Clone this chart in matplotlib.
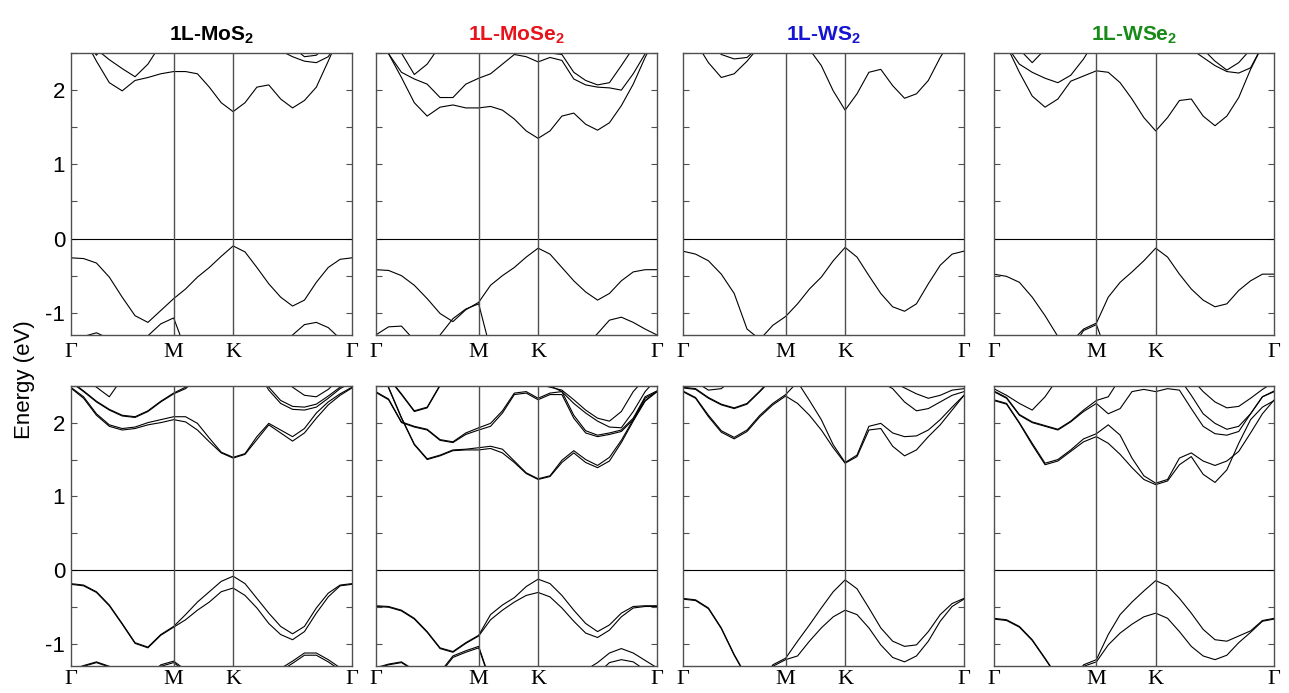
import numpy as np
import matplotlib
matplotlib.use('Agg')
import matplotlib.pyplot as plt
from matplotlib.ticker import MultipleLocator

plt.rcParams['font.family'] = ['Liberation Sans', 'DejaVu Sans']
plt.rcParams['mathtext.fontset'] = 'custom'
plt.rcParams['mathtext.rm'] = 'Liberation Sans:bold'
plt.rcParams['mathtext.default'] = 'rm'
plt.rcParams['axes.unicode_minus'] = False

# k-path G-M-K-G, segment lengths in units of |GK|
seg_gm, seg_mk, seg_kg = 0.866, 0.5, 1.0
k_nodes = [0, seg_gm, seg_gm + seg_mk, seg_gm + seg_mk + seg_kg]
k_labels = ['Γ', 'M', 'K', 'Γ']
k = np.concatenate([np.linspace(k_nodes[0], k_nodes[1], 9),
                    np.linspace(k_nodes[1], k_nodes[2], 6)[1:],
                    np.linspace(k_nodes[2], k_nodes[3], 11)[1:]])

titles = ['1L-MoS$_2$', '1L-MoSe$_2$', '1L-WS$_2$', '1L-WSe$_2$']
title_colors = ['black', '#e8141c', '#1414d2', '#178a17']

# energies (eV) read along the path, 24 points: 9 on G-M, 5 on M-K, 10 on K-G
# --- without spin-orbit coupling (top row)
mos2_vb = [
    [-0.26, -0.27, -0.33, -0.52, -0.79, -1.04, -1.13, -0.97, -0.81, -0.68, -0.52, -0.39, -0.24, -0.10, -0.18, -0.39, -0.61, -0.79, -0.91, -0.83, -0.59, -0.39, -0.28, -0.26],
    [-1.40, -1.32, -1.27, -1.35, -1.50, -1.50, -1.31, -1.15, -1.07, -1.50, -1.80, -1.90, -2.00, -2.00, -1.90, -1.80, -1.60, -1.45, -1.30, -1.16, -1.13, -1.20, -1.35, -1.40],
]
mos2_cb = [
    [2.93, 2.71, 2.39, 2.10, 1.99, 2.13, 2.17, 2.22, 2.25, 2.25, 2.22, 2.04, 1.83, 1.71, 1.83, 2.04, 2.07, 1.88, 1.76, 1.86, 2.04, 2.39, 2.75, 3.00],
    [3.20, 3.00, 2.55, 2.41, 2.29, 2.18, 2.35, 2.62, 2.85, 3.00, 3.00, 2.90, 2.80, 2.75, 2.75, 2.70, 2.62, 2.53, 2.45, 2.39, 2.37, 2.45, 2.70, 3.00],
    [3.30, 2.70, 2.47, 2.70, 3.00, 3.10, 3.10, 3.10, 3.10, 3.10, 3.10, 3.10, 3.10, 3.10, 3.00, 2.95, 2.90, 2.80, 2.58, 2.45, 2.47, 2.62, 2.90, 3.30],
]
mose2_vb = [
    [-0.42, -0.43, -0.50, -0.63, -0.81, -1.01, -1.12, -0.96, -0.86, -0.63, -0.50, -0.39, -0.25, -0.13, -0.21, -0.39, -0.57, -0.72, -0.83, -0.74, -0.57, -0.45, -0.42, -0.42],
    [-1.30, -1.19, -1.18, -1.37, -1.50, -1.30, -1.08, -0.95, -0.88, -1.50, -1.90, -2.00, -2.00, -2.00, -1.90, -1.70, -1.55, -1.45, -1.28, -1.10, -1.06, -1.13, -1.22, -1.30],
]
mose2_cb = [
    [2.84, 2.49, 2.17, 1.83, 1.65, 1.77, 1.80, 1.76, 1.76, 1.78, 1.73, 1.61, 1.45, 1.35, 1.45, 1.65, 1.69, 1.54, 1.46, 1.56, 1.79, 2.08, 2.44, 2.75],
    [2.95, 2.49, 2.24, 2.15, 2.08, 1.90, 1.90, 2.08, 2.16, 2.22, 2.35, 2.48, 2.45, 2.38, 2.44, 2.40, 2.15, 2.07, 2.04, 2.03, 2.00, 2.22, 2.49, 2.80],
    [3.10, 2.80, 2.50, 2.21, 2.35, 2.60, 2.80, 2.90, 2.90, 2.80, 2.70, 2.60, 2.55, 2.52, 2.50, 2.48, 2.24, 2.13, 2.07, 2.10, 2.33, 2.57, 2.80, 3.00],
]
ws2_vb = [
    [-0.17, -0.21, -0.30, -0.48, -0.74, -1.22, -1.36, -1.17, -1.05, -0.88, -0.68, -0.52, -0.30, -0.12, -0.25, -0.50, -0.74, -0.92, -0.98, -0.88, -0.61, -0.36, -0.21, -0.17],
]
ws2_cb = [
    [3.00, 2.65, 2.37, 2.17, 2.22, 2.39, 2.60, 2.80, 2.90, 2.85, 2.55, 2.33, 1.99, 1.73, 1.95, 2.24, 2.28, 2.06, 1.89, 1.95, 2.13, 2.44, 2.70, 3.00],
    [3.20, 2.90, 2.65, 2.48, 2.42, 2.44, 2.60, 2.90, 3.10, 3.20, 3.20, 3.20, 3.20, 3.20, 3.10, 3.00, 2.90, 2.80, 2.80, 2.80, 2.80, 2.80, 2.90, 3.20],
]
wse2_vb = [
    [-0.48, -0.51, -0.59, -0.79, -1.04, -1.32, -1.40, -1.22, -1.14, -0.79, -0.59, -0.45, -0.30, -0.13, -0.25, -0.48, -0.68, -0.83, -0.92, -0.88, -0.70, -0.57, -0.48, -0.48],
    [-1.60, -1.60, -1.60, -1.60, -1.60, -1.55, -1.50, -1.24, -1.16, -1.60, -1.80, -1.90, -2.00, -2.00, -1.90, -1.80, -1.70, -1.65, -1.60, -1.60, -1.60, -1.60, -1.60, -1.60],
]
wse2_cb = [
    [2.90, 2.60, 2.24, 1.92, 1.77, 1.88, 2.12, 2.19, 2.26, 2.24, 2.10, 1.88, 1.63, 1.45, 1.63, 1.86, 1.88, 1.65, 1.52, 1.65, 1.90, 2.28, 2.60, 2.90],
    [3.00, 2.60, 2.35, 2.24, 2.16, 2.10, 2.20, 2.42, 2.70, 2.90, 3.00, 3.00, 3.00, 3.00, 2.90, 2.70, 2.55, 2.44, 2.33, 2.25, 2.23, 2.30, 2.60, 2.90],
    [3.20, 2.90, 2.55, 2.37, 2.55, 2.90, 3.10, 3.10, 3.10, 3.10, 3.10, 3.10, 3.10, 3.10, 3.00, 2.90, 2.70, 2.55, 2.39, 2.27, 2.37, 2.55, 2.90, 3.20],
]

# --- with spin-orbit coupling (bottom row)
mos2_soc_vb = [
    [-0.18, -0.20, -0.29, -0.47, -0.72, -0.98, -1.04, -0.87, -0.76, -0.60, -0.43, -0.29, -0.15, -0.08, -0.18, -0.38, -0.58, -0.76, -0.86, -0.76, -0.51, -0.31, -0.20, -0.18],
    [-0.19, -0.21, -0.30, -0.48, -0.73, -0.99, -1.05, -0.88, -0.77, -0.67, -0.54, -0.43, -0.29, -0.24, -0.34, -0.51, -0.72, -0.87, -0.94, -0.83, -0.58, -0.36, -0.21, -0.19],
    [-1.35, -1.29, -1.24, -1.30, -1.45, -1.50, -1.45, -1.28, -1.23, -1.35, -1.60, -1.80, -1.80, -1.80, -1.70, -1.60, -1.45, -1.33, -1.23, -1.12, -1.12, -1.21, -1.32, -1.40],
    [-1.36, -1.30, -1.25, -1.31, -1.46, -1.51, -1.46, -1.30, -1.25, -1.37, -1.62, -1.82, -1.82, -1.82, -1.72, -1.62, -1.47, -1.36, -1.26, -1.15, -1.15, -1.24, -1.35, -1.42],
]
mos2_soc_cb = [
    [2.47, 2.33, 2.10, 1.95, 1.90, 1.92, 1.97, 2.00, 2.04, 2.01, 1.90, 1.74, 1.59, 1.52, 1.57, 1.77, 1.97, 1.86, 1.75, 1.86, 2.06, 2.24, 2.37, 2.47],
    [2.48, 2.35, 2.12, 1.97, 1.92, 1.94, 2.00, 2.04, 2.08, 2.08, 1.99, 1.79, 1.60, 1.53, 1.58, 1.81, 1.99, 1.90, 1.81, 1.92, 2.13, 2.28, 2.39, 2.48],
    [2.55, 2.42, 2.28, 2.17, 2.09, 2.07, 2.15, 2.28, 2.39, 2.46, 2.60, 2.80, 2.90, 2.90, 2.80, 2.70, 2.44, 2.26, 2.18, 2.17, 2.21, 2.33, 2.46, 2.55],
    [2.56, 2.43, 2.29, 2.18, 2.10, 2.08, 2.16, 2.29, 2.40, 2.48, 2.62, 2.82, 2.92, 2.92, 2.82, 2.72, 2.48, 2.30, 2.22, 2.21, 2.25, 2.36, 2.48, 2.56],
    [3.00, 2.60, 2.48, 2.35, 2.60, 2.90, 3.00, 3.00, 3.00, 3.00, 3.00, 3.00, 3.00, 3.00, 3.00, 2.90, 2.80, 2.60, 2.48, 2.37, 2.35, 2.45, 2.60, 3.00],
]
mose2_soc_vb = [
    [-0.48, -0.49, -0.54, -0.65, -0.83, -1.05, -1.10, -0.98, -0.88, -0.60, -0.47, -0.37, -0.22, -0.12, -0.18, -0.34, -0.54, -0.72, -0.83, -0.74, -0.58, -0.49, -0.48, -0.48],
    [-0.49, -0.50, -0.55, -0.66, -0.84, -1.06, -1.11, -0.99, -0.89, -0.67, -0.54, -0.43, -0.34, -0.30, -0.36, -0.51, -0.69, -0.85, -0.91, -0.81, -0.63, -0.51, -0.49, -0.49],
    [-1.32, -1.27, -1.24, -1.35, -1.45, -1.38, -1.16, -1.09, -1.03, -1.50, -1.80, -1.90, -2.00, -2.00, -1.90, -1.70, -1.50, -1.35, -1.25, -1.12, -1.06, -1.12, -1.22, -1.32],
    [-1.33, -1.28, -1.25, -1.36, -1.46, -1.40, -1.18, -1.11, -1.05, -1.52, -1.82, -1.92, -2.02, -2.02, -1.92, -1.72, -1.52, -1.45, -1.40, -1.25, -1.21, -1.24, -1.35, -1.33],
]
mose2_soc_cb = [
    [2.90, 2.47, 2.06, 1.70, 1.50, 1.55, 1.62, 1.63, 1.63, 1.65, 1.59, 1.46, 1.31, 1.23, 1.27, 1.46, 1.59, 1.46, 1.39, 1.48, 1.73, 2.02, 2.29, 2.42],
    [2.91, 2.48, 2.07, 1.71, 1.51, 1.56, 1.63, 1.64, 1.66, 1.68, 1.64, 1.48, 1.32, 1.24, 1.28, 1.49, 1.62, 1.50, 1.42, 1.53, 1.76, 2.04, 2.30, 2.42],
    [2.41, 2.31, 2.00, 1.94, 1.90, 1.76, 1.73, 1.84, 1.90, 1.95, 2.13, 2.38, 2.40, 2.31, 2.38, 2.38, 2.06, 1.86, 1.81, 1.84, 1.88, 2.04, 2.33, 2.42],
    [2.42, 2.32, 2.01, 1.95, 1.91, 1.77, 1.74, 1.86, 1.93, 1.99, 2.16, 2.40, 2.42, 2.33, 2.40, 2.42, 2.10, 1.89, 1.83, 1.86, 1.90, 2.06, 2.35, 2.43],
    [2.90, 2.60, 2.38, 2.15, 2.20, 2.50, 2.80, 2.90, 2.90, 2.90, 2.80, 2.70, 2.60, 2.52, 2.48, 2.44, 2.31, 2.17, 2.06, 2.02, 2.15, 2.42, 2.60, 2.80],
    [2.91, 2.61, 2.39, 2.16, 2.21, 2.51, 2.81, 2.91, 2.91, 2.91, 2.81, 2.71, 2.61, 2.53, 2.50, 2.42, 2.26, 2.13, 2.02, 1.94, 1.93, 2.15, 2.42, 2.60],
]
ws2_soc_vb = [
    [-0.38, -0.40, -0.51, -0.78, -1.14, -1.45, -1.55, -1.28, -1.19, -0.96, -0.74, -0.51, -0.29, -0.13, -0.25, -0.51, -0.78, -0.96, -1.03, -1.01, -0.83, -0.60, -0.45, -0.38],
    [-0.39, -0.41, -0.52, -0.79, -1.15, -1.46, -1.56, -1.30, -1.21, -1.16, -0.96, -0.78, -0.63, -0.54, -0.60, -0.78, -1.01, -1.18, -1.24, -1.16, -0.96, -0.69, -0.49, -0.39],
]
ws2_soc_cb = [
    [2.42, 2.33, 2.08, 1.87, 1.78, 1.88, 2.08, 2.24, 2.36, 2.26, 2.10, 1.90, 1.66, 1.45, 1.54, 1.90, 1.92, 1.68, 1.55, 1.63, 1.81, 1.97, 2.17, 2.37],
    [2.43, 2.34, 2.10, 1.89, 1.80, 1.90, 2.10, 2.26, 2.38, 2.55, 2.30, 2.04, 1.70, 1.46, 1.56, 1.95, 1.99, 1.86, 1.81, 1.82, 1.90, 2.04, 2.21, 2.37],
    [2.47, 2.45, 2.33, 2.24, 2.19, 2.25, 2.42, 2.60, 2.70, 2.80, 2.80, 2.80, 2.80, 2.80, 2.80, 2.70, 2.55, 2.46, 2.28, 2.16, 2.19, 2.28, 2.37, 2.42],
    [2.48, 2.46, 2.34, 2.25, 2.20, 2.26, 2.43, 2.61, 2.71, 2.81, 2.81, 2.81, 2.81, 2.81, 2.81, 2.71, 2.60, 2.55, 2.47, 2.39, 2.33, 2.37, 2.44, 2.46],
    [2.70, 2.55, 2.44, 2.46, 2.60, 2.80, 2.90, 2.90, 2.90, 2.90, 2.90, 2.90, 2.90, 2.90, 2.90, 2.90, 2.90, 2.90, 2.90, 2.90, 2.90, 2.90, 2.90, 2.90],
]
wse2_soc_vb = [
    [-0.65, -0.67, -0.76, -0.94, -1.19, -1.45, -1.55, -1.28, -1.21, -0.87, -0.60, -0.43, -0.28, -0.14, -0.21, -0.38, -0.58, -0.80, -0.94, -0.96, -0.89, -0.82, -0.68, -0.65],
    [-0.66, -0.68, -0.77, -0.95, -1.20, -1.46, -1.56, -1.30, -1.24, -1.01, -0.85, -0.73, -0.63, -0.58, -0.65, -0.83, -1.03, -1.16, -1.21, -1.15, -0.98, -0.84, -0.69, -0.66],
]
wse2_soc_cb = [
    [2.30, 2.25, 1.99, 1.70, 1.43, 1.48, 1.61, 1.74, 1.81, 1.72, 1.57, 1.39, 1.23, 1.16, 1.21, 1.43, 1.54, 1.30, 1.19, 1.36, 1.72, 2.04, 2.21, 2.30],
    [2.31, 2.26, 2.00, 1.72, 1.45, 1.50, 1.63, 1.78, 1.85, 1.97, 1.83, 1.52, 1.28, 1.18, 1.23, 1.52, 1.59, 1.48, 1.42, 1.48, 1.61, 1.86, 2.12, 2.31],
    [2.42, 2.33, 2.10, 2.00, 1.95, 1.90, 2.01, 2.15, 2.26, 2.12, 2.19, 2.42, 2.45, 2.42, 2.46, 2.44, 2.19, 1.95, 1.85, 1.83, 1.88, 2.12, 2.35, 2.42],
    [2.43, 2.34, 2.11, 2.01, 1.96, 1.91, 2.02, 2.17, 2.30, 2.35, 2.60, 2.80, 2.80, 2.80, 2.70, 2.60, 2.37, 2.12, 1.99, 1.91, 1.95, 2.12, 2.35, 2.43],
    [2.46, 2.37, 2.26, 2.17, 2.35, 2.60, 2.80, 2.90, 2.90, 2.90, 2.90, 2.90, 2.90, 2.90, 2.80, 2.70, 2.60, 2.42, 2.28, 2.20, 2.22, 2.33, 2.45, 2.55],
]

panels = [
    [mos2_vb + mos2_cb, mose2_vb + mose2_cb, ws2_vb + ws2_cb, wse2_vb + wse2_cb],
    [mos2_soc_vb + mos2_soc_cb, mose2_soc_vb + mose2_soc_cb, ws2_soc_vb + ws2_soc_cb, wse2_soc_vb + wse2_soc_cb],
]

W, H = 1289, 693
fig = plt.figure(figsize=(W / 100, H / 100), dpi=100)

col_left = [70.7, 375.7, 682.7, 993.7]
col_width = [281.3, 281.3, 281.3, 280.6]
row_top = [53, 385.7]
row_height = [282, 280.6]
xlabel_pad = [6.0, 3.0]
frame = '#505050'

for r in range(2):
    for c in range(4):
        ax = fig.add_axes([col_left[c] / W, 1 - (row_top[r] + row_height[r]) / H,
                           col_width[c] / W, row_height[r] / H])
        for band in panels[r][c]:
            ax.plot(k, band, color='black', lw=0.8)
        ax.axhline(0, color='black', lw=0.8)
        for kn in k_nodes[1:3]:
            ax.axvline(kn, color=frame, lw=1.0)
        ax.set_xlim(k_nodes[0], k_nodes[-1])
        ax.set_ylim(-1.3, 2.5)
        ax.set_xticks(k_nodes)
        ax.set_xticklabels(k_labels, fontfamily='Liberation Serif', fontsize=16)
        ax.tick_params(axis='x', length=0, pad=xlabel_pad[r])
        ax.yaxis.set_major_locator(MultipleLocator(1))
        ax.yaxis.set_minor_locator(MultipleLocator(0.5))
        ax.tick_params(axis='y', which='both', direction='in', left=True, right=True,
                       length=4, width=0.8, color=frame, labelsize=16, pad=4,
                       labelleft=(c == 0))
        for s in ax.spines.values():
            s.set_color(frame)
            s.set_linewidth(1.0)
        if r == 0:
            ax.set_title(titles[c], color=title_colors[c], fontsize=15,
                         fontweight='bold', pad=9)

fig.text(25 / W, 1 - 380 / H, 'Energy (eV)', rotation=90, ha='center', va='center', fontsize=16)

fig.savefig('out.png', dpi=100)
